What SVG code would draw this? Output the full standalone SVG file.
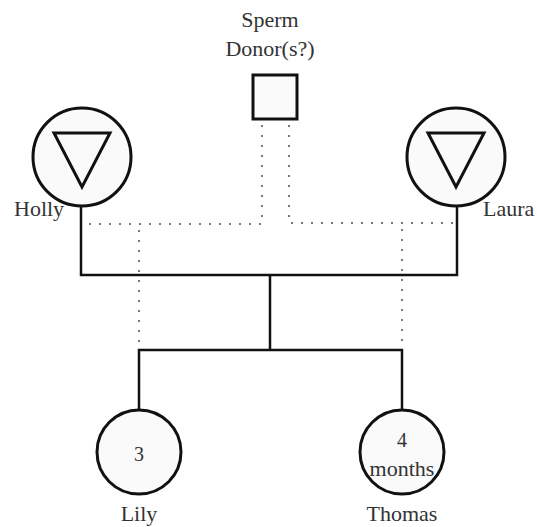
<svg xmlns="http://www.w3.org/2000/svg" width="537" height="527" viewBox="0 0 537 527">
<style>
text{font-family:"Liberation Serif","Times New Roman",serif;font-size:22px;fill:#333}
.mid{text-anchor:middle}
.node{fill:#fafafa;stroke:#111;stroke-width:3}
.tri{fill:none;stroke:#111;stroke-width:3;stroke-linejoin:miter}
.solid{fill:none;stroke:#111;stroke-width:2.5}
.dot{fill:none;stroke:#777;stroke-width:2;stroke-dasharray:2 8;stroke-linecap:butt}
</style>
<rect width="537" height="527" fill="#fff"/>
<g id="connectors">
<path class="dot" d="M262 125 V224 H84"/>
<path class="dot" d="M289 125 V223 H455"/>
<path class="dot" d="M139 230 V346"/>
<path class="dot" d="M402 229 V346"/>
<path class="solid" d="M81 206 V275 H457 V206"/>
<path class="solid" d="M270 275 V350"/>
<path class="solid" d="M139 411 V350 H402 V411"/>
</g>
<g id="donor">
<text class="mid" x="270" y="27">Sperm</text>
<text class="mid" x="270" y="56">Donor(s?)</text>
<rect class="node" x="253" y="75" width="44" height="44"/>
</g>
<g id="holly">
<circle class="node" cx="82" cy="157" r="49"/>
<polygon class="tri" points="54,133 110,133 82,187"/>
<text x="14" y="216">Holly</text>
</g>
<g id="laura">
<circle class="node" cx="456" cy="157" r="49"/>
<polygon class="tri" points="428,133 484,133 456,187"/>
<text x="483" y="216">Laura</text>
</g>
<g id="lily">
<circle class="node" cx="139" cy="452" r="42"/>
<text class="mid" x="139" y="461" style="font-size:20px">3</text>
<text class="mid" x="139" y="521">Lily</text>
</g>
<g id="thomas">
<circle class="node" cx="402" cy="452" r="42"/>
<text class="mid" x="402" y="447" style="font-size:20px">4</text>
<text class="mid" x="402" y="476">months</text>
<text class="mid" x="402" y="521">Thomas</text>
</g>
</svg>
